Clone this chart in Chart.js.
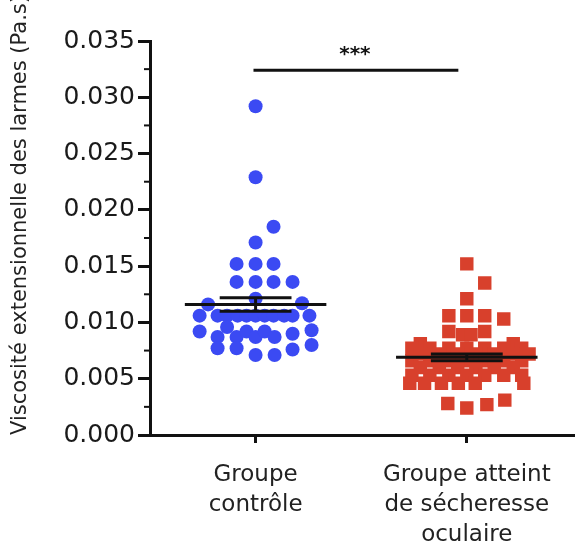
<!DOCTYPE html>
<html>
<head>
<meta charset="utf-8">
<script src="https://cdn.jsdelivr.net/npm/chart.js@4"></script>
<style>
	body { margin: 0; background: #fff; }
	#wrap { width: 584px; height: 548px; }
</style>
</head>
<body>
<div id="wrap"><canvas id="scatter-area"></canvas></div>
<script>
var categories = [['Groupe', 'contrôle'], ['Groupe atteint', 'de sécheresse', 'oculaire']];
var yTicks = [0, 0.005, 0.010, 0.015, 0.020, 0.025, 0.030, 0.035];
var yMinorTicks = [0.0025, 0.0075, 0.0125, 0.0175, 0.0225, 0.0275, 0.0325];

// groupe contrôle (x = position in the swarm, y = viscosité)
var controlX = [1, 1, 1.085, 1, 0.91, 1, 1.085, 0.91, 1, 1.085, 1.175, 1, 0.775, 1.22,
	0.735, 0.82, 0.865, 0.915, 0.957, 1, 1.043, 1.085, 1.135, 1.175, 1.255,
	0.865, 0.735, 1.175, 1.265, 0.82, 0.91, 0.957, 1, 1.043, 1.09, 0.82, 0.91, 1.175, 1.265, 1, 1.09];
var controlY = [0.0292, 0.0229, 0.0185, 0.0171, 0.0152, 0.0152, 0.0152, 0.0136, 0.0136, 0.0136, 0.0136, 0.0121, 0.0116, 0.0117,
	0.0106, 0.0106, 0.0106, 0.0106, 0.0106, 0.0106, 0.0106, 0.0106, 0.0106, 0.0106, 0.0106,
	0.0096, 0.0092, 0.0090, 0.0093, 0.0087, 0.0087, 0.0092, 0.0087, 0.0092, 0.0087, 0.0077, 0.0077, 0.0076, 0.0080, 0.0071, 0.0071];

// groupe atteint de sécheresse oculaire
var dryX = [2, 2.085, 2, 1.915, 2, 2.085, 2.175, 1.915, 2.085, 1.98, 2.02, 1.78, 2.22,
	1.74, 1.825, 1.915, 2, 2.085, 2.175, 2.26,
	1.78, 1.87, 1.957, 2.043, 2.13, 2.22, 2.295,
	1.74, 1.825, 1.915, 2, 2.085, 2.175, 2.26,
	1.78, 1.87, 1.957, 2.043, 2.13, 2.22,
	1.74, 1.825, 1.915, 2, 2.085, 2.175, 2.26,
	1.73, 1.8, 1.88, 1.96, 2.04, 2.27,
	1.91, 2, 2.095, 2.18];
var dryY = [0.0152, 0.0135, 0.0121, 0.0106, 0.0106, 0.0106, 0.0103, 0.0092, 0.0092, 0.0089, 0.0089, 0.0081, 0.0081,
	0.0077, 0.0077, 0.0077, 0.0077, 0.0077, 0.0077, 0.0077,
	0.0072, 0.0072, 0.0072, 0.0072, 0.0072, 0.0072, 0.0072,
	0.0066, 0.0066, 0.0066, 0.0066, 0.0066, 0.0066, 0.0066,
	0.0060, 0.0060, 0.0060, 0.0060, 0.0060, 0.0060,
	0.0053, 0.0053, 0.0053, 0.0053, 0.0053, 0.0053, 0.0053,
	0.0046, 0.0046, 0.0046, 0.0046, 0.0046, 0.0046,
	0.0028, 0.0024, 0.0027, 0.0031];

var groupMean = [0.0116, 0.0069];
var groupSem = [0.0006, 0.0003];
var signif = '***';

function toPoints(xs, ys) {
	var out = [];
	for (var i = 0; i < xs.length; i++) {
		out.push({x: xs[i], y: ys[i]});
	}
	return out;
}

var meanPlugin = {
	id: 'meanPlugin',
	afterDatasetsDraw: function(chart) {
		var ctx = chart.ctx;
		var xs = chart.scales.x, ys = chart.scales.y;
		ctx.save();
		ctx.strokeStyle = '#111';
		ctx.lineWidth = 3;
		for (var i = 0; i < groupMean.length; i++) {
			var c = i + 1;
			var ym = ys.getPixelForValue(groupMean[i]);
			var yh = ys.getPixelForValue(groupMean[i] + groupSem[i]);
			var yl = ys.getPixelForValue(groupMean[i] - groupSem[i]);
			ctx.beginPath();
			ctx.moveTo(xs.getPixelForValue(c - 0.335), ym);
			ctx.lineTo(xs.getPixelForValue(c + 0.335), ym);
			ctx.moveTo(xs.getPixelForValue(c - 0.17), yh);
			ctx.lineTo(xs.getPixelForValue(c + 0.17), yh);
			ctx.moveTo(xs.getPixelForValue(c - 0.17), yl);
			ctx.lineTo(xs.getPixelForValue(c + 0.17), yl);
			ctx.moveTo(xs.getPixelForValue(c), yh);
			ctx.lineTo(xs.getPixelForValue(c), yl);
			ctx.stroke();
		}
		// minor ticks on y axis
		ctx.lineWidth = 2;
		var ax = ys.right;
		for (var j = 0; j < yMinorTicks.length; j++) {
			var yp = ys.getPixelForValue(yMinorTicks[j]);
			ctx.beginPath();
			ctx.moveTo(ax - 6, yp);
			ctx.lineTo(ax, yp);
			ctx.stroke();
		}
		// significance bar
		var sy = ys.getPixelForValue(0.0324);
		ctx.lineWidth = 3;
		ctx.beginPath();
		ctx.moveTo(xs.getPixelForValue(0.99), sy);
		ctx.lineTo(xs.getPixelForValue(1.96), sy);
		ctx.stroke();
		ctx.fillStyle = '#111';
		ctx.font = 'bold 20px "DejaVu Sans"';
		ctx.textAlign = 'center';
		ctx.textBaseline = 'middle';
		ctx.fillText(signif, xs.getPixelForValue(1.47), ys.getPixelForValue(0.0338));
		ctx.restore();
	}
};

var config_scatter = {
	type: 'scatter',
	data: {
		datasets: [{
			data: toPoints(controlX, controlY),
			backgroundColor: '#3b4af3',
			borderWidth: 0,
			pointRadius: 7,
			pointStyle: 'circle'
		}, {
			data: toPoints(dryX, dryY),
			backgroundColor: '#d8402c',
			borderWidth: 0,
			pointRadius: 9.5,
			pointStyle: 'rect'
		}]
	},
	options: {
		responsive: true,
		maintainAspectRatio: false,
		animation: false,
		layout: { padding: { top: 41, right: 9, left: 0, bottom: 0 } },
		plugins: {
			legend: { display: false },
			tooltip: { enabled: false }
		},
		scales: {
			x: {
				type: 'linear',
				min: 0.5,
				max: 2.51,
				afterBuildTicks: function(s) { s.ticks = [{value: 1}, {value: 2}]; },
				afterFit: function(s) { s.height = 113; },
				grid: { drawOnChartArea: false, tickLength: 8, tickWidth: 3, tickColor: '#111' },
				border: { color: '#111', width: 3 },
				ticks: {
					color: '#222',
					padding: 17,
					maxRotation: 0,
					font: { family: 'DejaVu Sans', size: 23, lineHeight: 1.3 },
					callback: function(v) { return categories[v - 1]; }
				}
			},
			y: {
				min: 0,
				max: 0.035,
				afterBuildTicks: function(s) {
					s.ticks = yTicks.map(function(v) { return {value: v}; });
				},
				afterFit: function(s) { s.width = 150; },
				grid: { drawOnChartArea: false, tickLength: 12, tickWidth: 3, tickColor: '#111' },
				border: { color: '#111', width: 3 },
				ticks: {
					color: '#1a1a1a',
					padding: 3,
					font: { family: 'DejaVu Sans', size: 25 },
					callback: function(v) { return v.toFixed(3); }
				},
				title: {
					display: true,
					align: 'start',
					text: 'Viscosité extensionnelle des larmes (Pa.s)',
					color: '#222',
					padding: { top: 8, bottom: 0 },
					font: { family: 'DejaVu Sans', size: 21 }
				}
			}
		}
	},
	plugins: [meanPlugin]
};

window.onload = function() {
	var ctx = document.getElementById('scatter-area').getContext('2d');
	window.myScatter = new Chart(ctx, config_scatter);
};
</script>
</body>
</html>
